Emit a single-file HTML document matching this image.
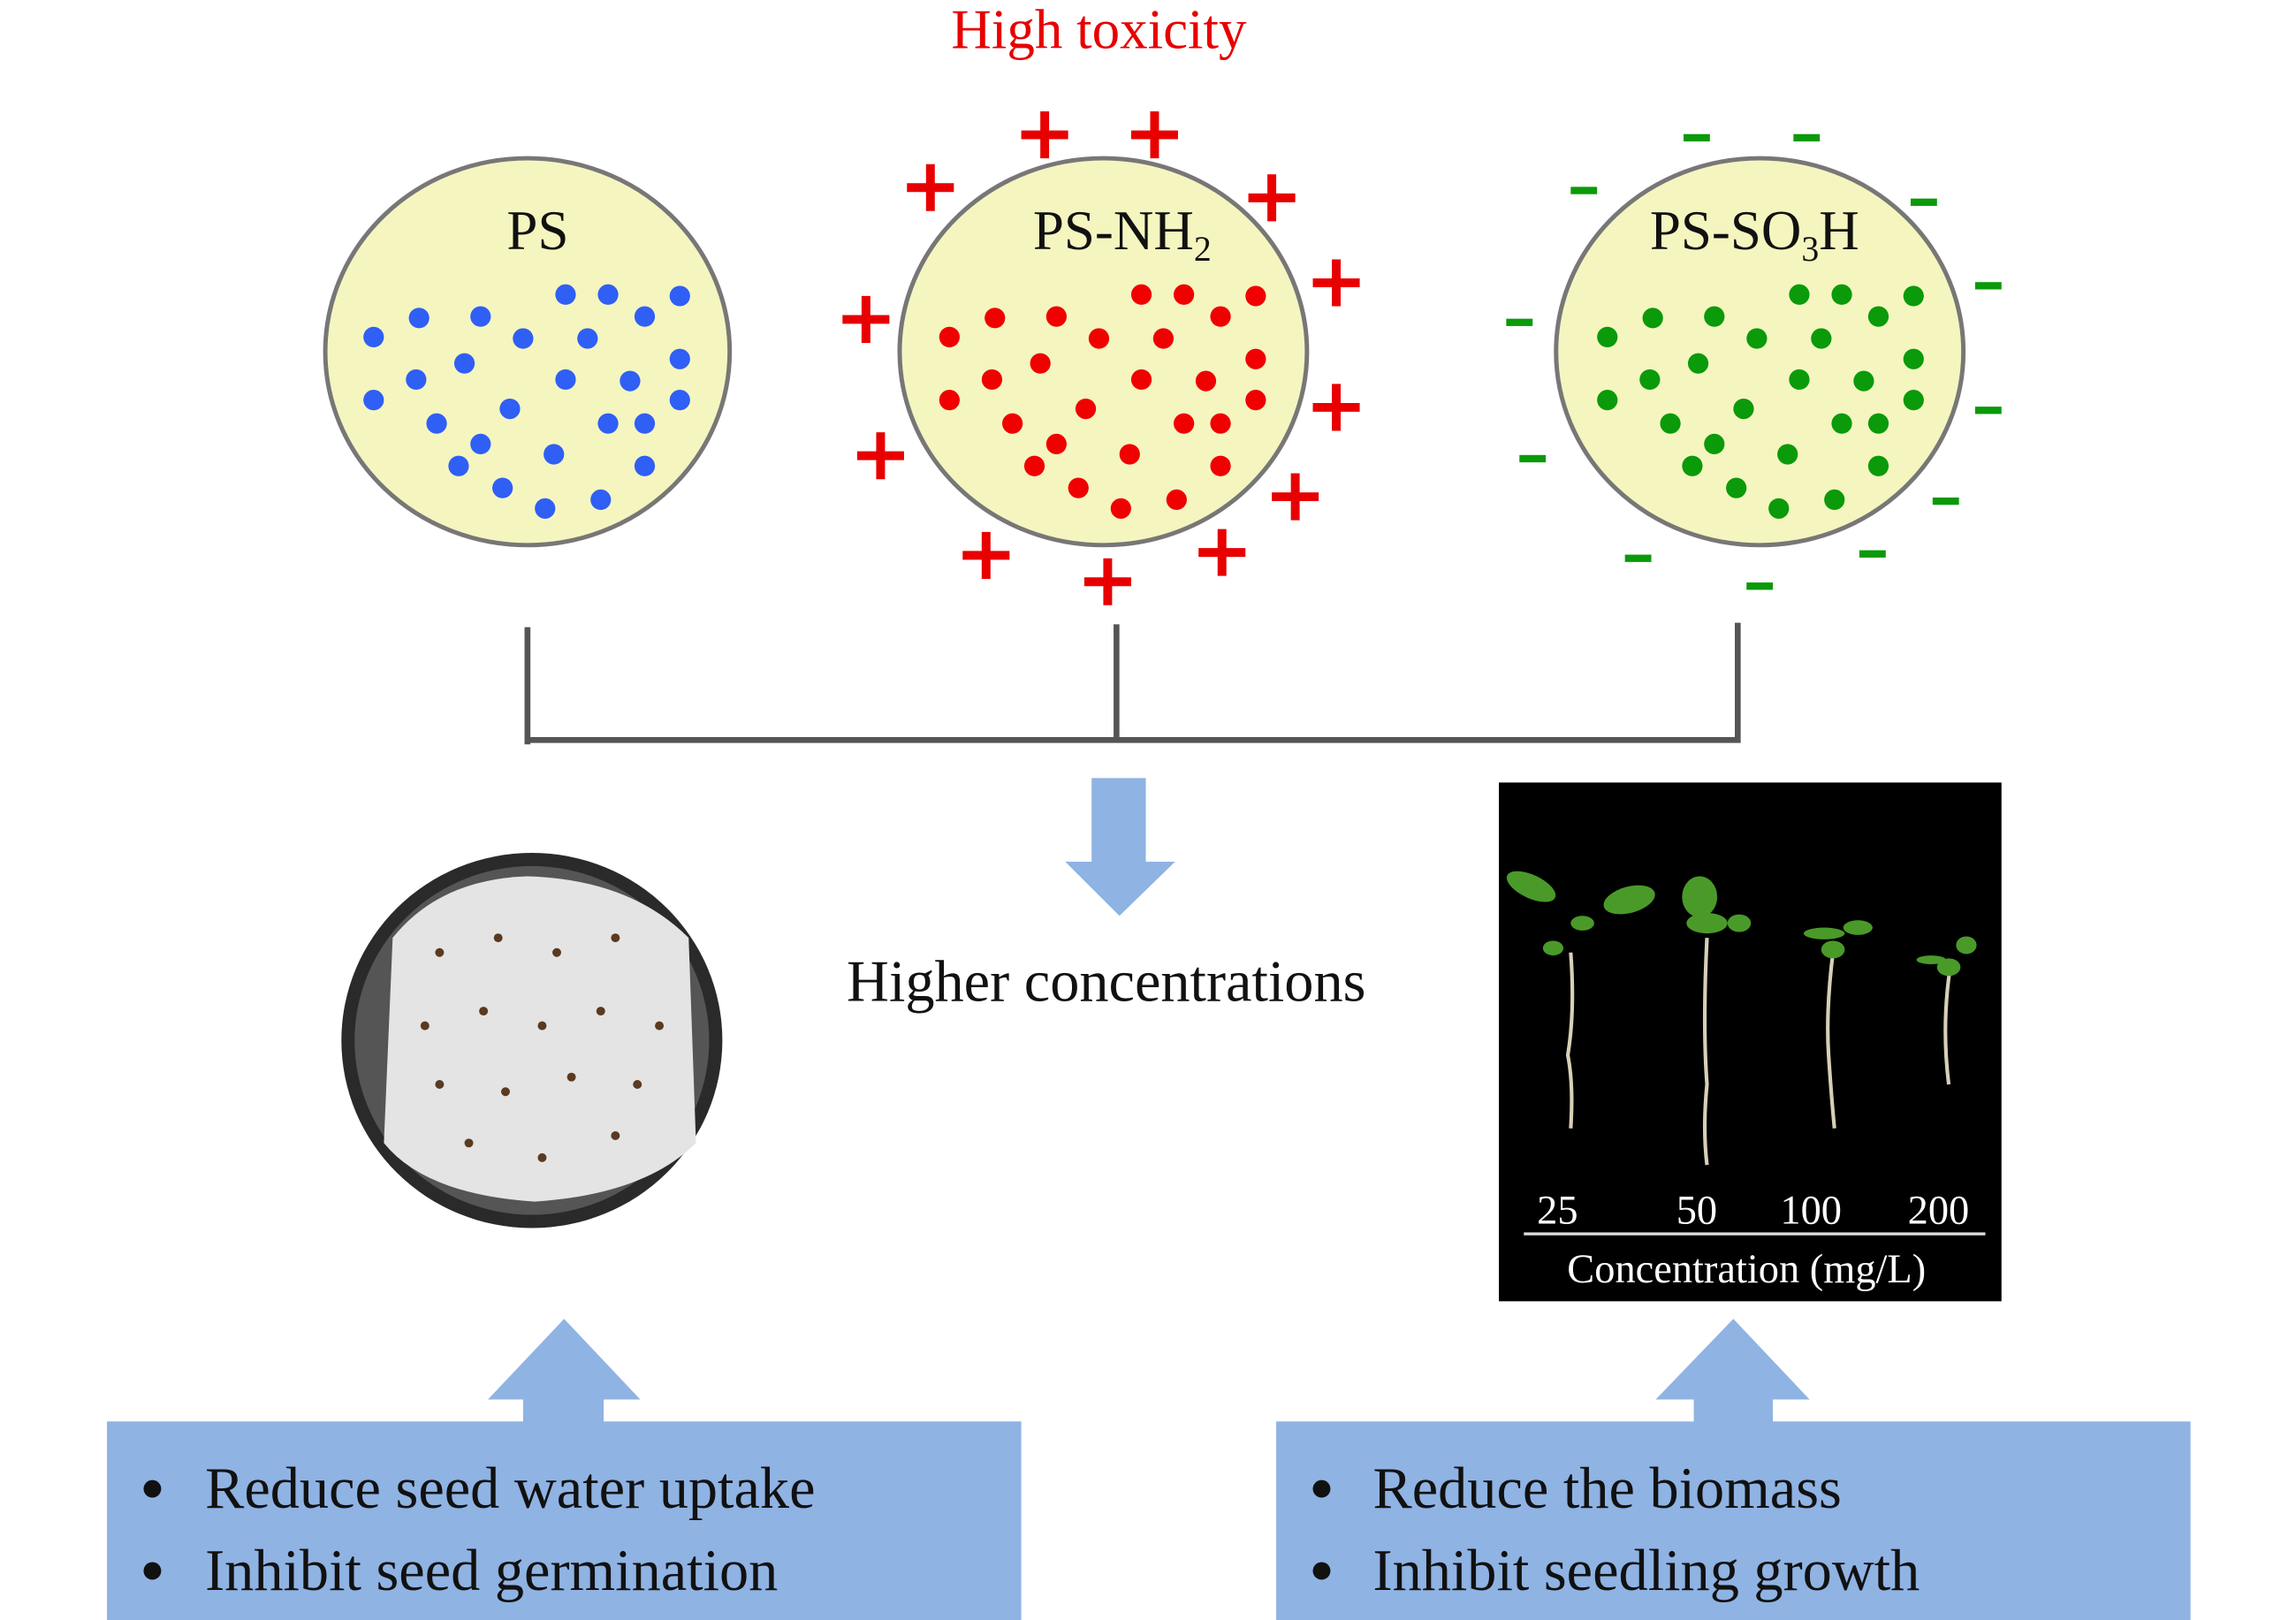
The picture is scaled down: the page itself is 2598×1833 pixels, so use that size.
<!DOCTYPE html>
<html><head><meta charset="utf-8"><style>
html,body{margin:0;padding:0;background:#fff;}
svg{display:block;}
text{font-family:"Liberation Serif",serif;}
</style></head><body>
<svg width="2598" height="1833" viewBox="0 0 1567 1105.5" preserveAspectRatio="none" xmlns="http://www.w3.org/2000/svg">
<defs>
<g id="dots">
<circle cx="255" cy="230" r="7"/><circle cx="286" cy="217" r="7"/><circle cx="328" cy="216" r="7"/><circle cx="357" cy="231" r="7"/><circle cx="386" cy="201" r="7"/><circle cx="415" cy="201" r="7"/><circle cx="440" cy="216" r="7"/><circle cx="464" cy="202" r="7"/><circle cx="401" cy="231" r="7"/><circle cx="255" cy="273" r="7"/><circle cx="284" cy="259" r="7"/><circle cx="317" cy="248" r="7"/><circle cx="386" cy="259" r="7"/><circle cx="430" cy="260" r="7"/><circle cx="464" cy="245" r="7"/><circle cx="298" cy="289" r="7"/><circle cx="328" cy="303" r="7"/><circle cx="348" cy="279" r="7"/><circle cx="415" cy="289" r="7"/><circle cx="440" cy="289" r="7"/><circle cx="464" cy="273" r="7"/><circle cx="313" cy="318" r="7"/><circle cx="343" cy="333" r="7"/><circle cx="378" cy="310" r="7"/><circle cx="410" cy="341" r="7"/><circle cx="372" cy="347" r="7"/><circle cx="440" cy="318" r="7"/>
</g>
<path id="plus" d="M-16 0H16M0 -16V16" stroke="#e80000" stroke-width="6"/>
<rect id="minus" x="-9" y="-2.5" width="18" height="5" fill="#0a9a0a"/>
</defs>
<text x="750" y="33" font-size="38" fill="#e80000" text-anchor="middle">High toxicity</text>
<ellipse cx="360" cy="240" rx="138" ry="132" fill="#f5f5c0" stroke="#777" stroke-width="3"/>
<ellipse cx="753" cy="240" rx="139" ry="132" fill="#f5f5c0" stroke="#777" stroke-width="3"/>
<ellipse cx="1201" cy="240" rx="139" ry="132" fill="#f5f5c0" stroke="#777" stroke-width="3"/>
<use href="#dots" fill="#2f5ff5"/>
<use href="#dots" fill="#f00000" transform="translate(393,0)"/>
<use href="#dots" fill="#0a9a0a" transform="translate(842,0)"/>
<text x="367" y="170" font-size="38" text-anchor="middle" fill="#111">PS</text>
<text x="705" y="170" font-size="38" fill="#111">PS-NH<tspan font-size="24" dy="8">2</tspan></text>
<text x="1126" y="170" font-size="38" fill="#111">PS-SO<tspan font-size="24" dy="8">3</tspan><tspan dy="-8">H</tspan></text>
<use href="#plus" x="713" y="92"/><use href="#plus" x="788" y="92"/><use href="#plus" x="635" y="128"/><use href="#plus" x="868" y="135"/><use href="#plus" x="912" y="193"/><use href="#plus" x="591" y="218"/><use href="#plus" x="912" y="278"/><use href="#plus" x="601" y="311"/><use href="#plus" x="884" y="339"/><use href="#plus" x="673" y="379"/><use href="#plus" x="834" y="377"/><use href="#plus" x="756" y="397"/>
<use href="#minus" x="1158" y="94"/><use href="#minus" x="1233" y="94"/><use href="#minus" x="1081" y="130"/><use href="#minus" x="1313" y="138"/><use href="#minus" x="1357" y="195"/><use href="#minus" x="1037" y="220"/><use href="#minus" x="1357" y="280"/><use href="#minus" x="1046" y="313"/><use href="#minus" x="1328" y="342"/><use href="#minus" x="1118" y="381"/><use href="#minus" x="1278" y="378"/><use href="#minus" x="1201" y="400"/>
<g stroke="#555" stroke-width="4" fill="none">
<path d="M360 428V508M762 426V505M1186 425V505M358 505H1188"/>
</g>
<path d="M745 531H782V588H802L764 625L727 588H745Z" fill="#8fb3e3"/>
<text x="755" y="683" font-size="40" text-anchor="middle" fill="#111">Higher concentrations</text>
<ellipse cx="363" cy="710" rx="130" ry="128" fill="#2a2a2a"/>
<ellipse cx="363" cy="710" rx="121" ry="119" fill="#555"/>
<path d="M268 640Q300 600 360 598Q430 600 470 640L475 780Q440 815 365 820Q290 815 262 780Z" fill="#e4e4e4"/>
<g fill="#5a3a20">
<circle cx="300" cy="650" r="3"/><circle cx="340" cy="640" r="3"/><circle cx="380" cy="650" r="3"/><circle cx="420" cy="640" r="3"/><circle cx="290" cy="700" r="3"/><circle cx="330" cy="690" r="3"/><circle cx="370" cy="700" r="3"/><circle cx="410" cy="690" r="3"/><circle cx="450" cy="700" r="3"/><circle cx="300" cy="740" r="3"/><circle cx="345" cy="745" r="3"/><circle cx="390" cy="735" r="3"/><circle cx="435" cy="740" r="3"/><circle cx="320" cy="780" r="3"/><circle cx="370" cy="790" r="3"/><circle cx="420" cy="775" r="3"/>
</g>
<rect x="1023" y="534" width="343" height="354" fill="#000"/>
<g stroke="#d8cfb8" stroke-width="2.5" fill="none">
<path d="M1072 650Q1075 690 1070 720Q1074 740 1072 770"/>
<path d="M1165 640Q1162 700 1165 740Q1162 770 1165 795"/>
<path d="M1251 650Q1246 690 1248 720Q1250 750 1252 770"/>
<path d="M1331 660Q1325 700 1330 740"/>
</g>
<g fill="#4a9a2a">
<ellipse cx="1045" cy="605" rx="18" ry="8" transform="rotate(25 1045 605)"/>
<ellipse cx="1112" cy="614" rx="18" ry="9" transform="rotate(-15 1112 614)"/>
<ellipse cx="1080" cy="630" rx="8" ry="5"/><ellipse cx="1060" cy="647" rx="7" ry="5"/>
<ellipse cx="1160" cy="612" rx="12" ry="14"/><ellipse cx="1165" cy="630" rx="14" ry="7"/><ellipse cx="1187" cy="630" rx="8" ry="6"/>
<ellipse cx="1245" cy="637" rx="14" ry="4"/><ellipse cx="1268" cy="633" rx="10" ry="5"/><ellipse cx="1251" cy="648" rx="8" ry="6"/>
<ellipse cx="1342" cy="645" rx="7" ry="6"/><ellipse cx="1330" cy="660" rx="8" ry="6"/><ellipse cx="1318" cy="655" rx="10" ry="3"/>
</g>
<g fill="#fff" font-size="28">
<text x="1063" y="835" text-anchor="middle">25</text><text x="1158" y="835" text-anchor="middle">50</text><text x="1236" y="835" text-anchor="middle">100</text><text x="1323" y="835" text-anchor="middle">200</text>
<text x="1192" y="875" text-anchor="middle">Concentration (mg/L)</text>
</g>
<rect x="1040" y="841" width="315" height="2" fill="#ddd"/>
<path d="M357 972V955H333L385 900L437 955H412V972Z" fill="#8fb3e3"/>
<path d="M1156 972V955H1130L1183 900L1235 955H1210V972Z" fill="#8fb3e3"/>
<rect x="73" y="970" width="624" height="136" fill="#8fb3e3"/>
<rect x="871" y="970" width="624" height="136" fill="#8fb3e3"/>
<g font-size="40" fill="#111">
<circle cx="104" cy="1016" r="6"/><circle cx="104" cy="1072" r="6"/>
<text x="140" y="1029">Reduce seed water uptake</text><text x="140" y="1085">Inhibit seed germination</text>
<circle cx="902" cy="1016" r="6"/><circle cx="902" cy="1072" r="6"/>
<text x="937" y="1029">Reduce the biomass</text><text x="937" y="1085">Inhibit seedling growth</text>
</g>
</svg>
</body></html>
